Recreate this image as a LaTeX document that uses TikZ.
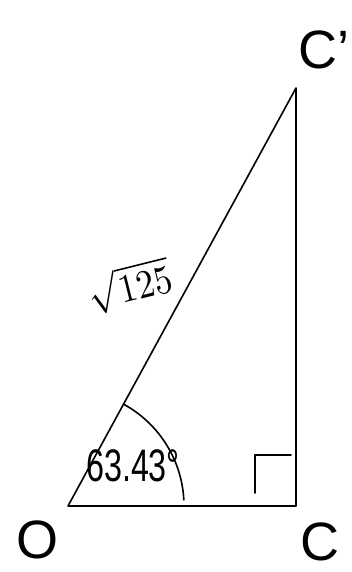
\documentclass[tikz,border=0pt]{standalone}
\usepackage{fontspec}
\setmainfont{Liberation Sans}
\usetikzlibrary{positioning, calc}

\tikzset{
  side/.style={line width=1.6pt, line cap=round, line join=round},
  lbl/.style={inner sep=0pt, font=\fontsize{54}{58}\selectfont},
  vlbl/.style={inner sep=0pt, font=\fontsize{38}{42}\selectfont}
}

\begin{document}
\begin{tikzpicture}[x=1pt, y=1pt]
        \useasboundingbox (0,0) rectangle (352,572);

        % Corners
        \coordinate (O) at (68,66);
        \coordinate (C) at (296,66);
        \coordinate (Cp) at (296,484);

        % Triangle
        \draw[side] (O) -- (C) -- (Cp) -- cycle;

        % Right angle mark
        \draw[side] (255,79) -- (255,117) -- (291,117);

        % Angle at O
        \draw[side] ($(O)+(61:116)$) arc (61:3:116);
        \node[vlbl] (ang) at (133,106) {\scalebox{0.85}[1.2]{63.43°}};

        % Hypotenuse length
        \node[inner sep=0pt, rotate=14] (hyp) at (130,286) {\scalebox{3.6}[4]{$\sqrt{125}$}};

        % Vertex labels
        \node[lbl] (labO) at (38,32) {O};
        \node[lbl] (labC) at (320,30) {C};
        \node[lbl] (labCp) at (324,522) {C'};
      \end{tikzpicture}
\end{document}
